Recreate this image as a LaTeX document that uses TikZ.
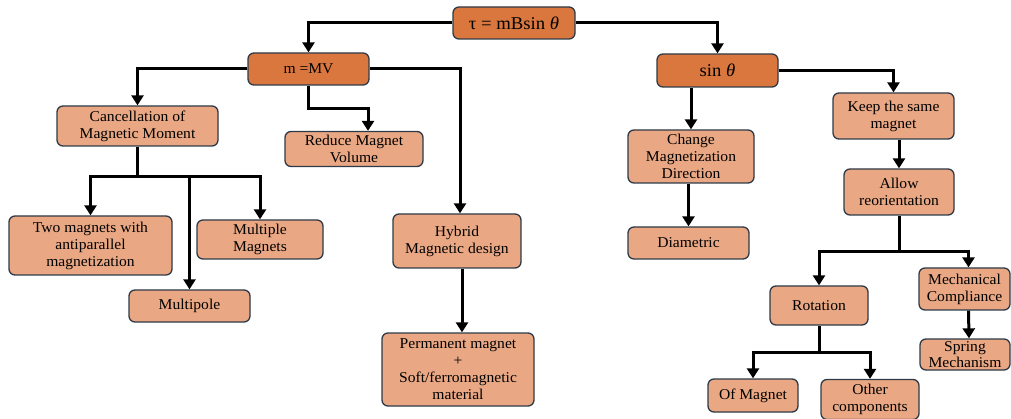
\documentclass[tikz,border=0pt]{standalone}
\usepackage{fontspec}
\setmainfont{Liberation Serif}[FakeStretch=1.04]
\usetikzlibrary{arrows.meta}
\definecolor{topfill}{HTML}{D9773F}
\definecolor{boxfill}{HTML}{E9A783}
\definecolor{boxline}{HTML}{2E3A47}
\tikzset{
  basebox/.style={draw=boxline, line width=1.3pt, rounded corners=6pt, align=center,
    inner sep=1pt, font=\fontsize{15}{17}\selectfont},
  topbox/.style={basebox, fill=topfill},
  subbox/.style={basebox, fill=boxfill},
  conn/.style={line width=3pt, black},
  arr/.style={conn, -{Triangle[length=10pt,width=12pt]}},
}
\begin{document}
\begin{tikzpicture}[x=1pt,y=-1pt]
\useasboundingbox (0,0) rectangle (1011,419);
% top level
\node[topbox, minimum width=122, minimum height=32, font=\fontsize{18}{20}\selectfont] (tau) at (514,23) {τ = mBsin \textit{θ}};
\node[topbox, minimum width=121, minimum height=32] (mmv) at (308.5,69) {m =MV};
\node[topbox, minimum width=121, minimum height=33, font=\fontsize{18}{20}\selectfont] (sin) at (717.5,70.5) {sin \textit{θ}};
% left branch
\node[subbox, minimum width=161, minimum height=40] (canc) at (137.5,126) {Cancellation of\\Magnetic Moment};
\node[subbox, minimum width=138, minimum height=35] (red) at (354,149) {Reduce Magnet\\Volume};
\node[subbox, minimum width=128, minimum height=54] (hyb) at (457,241) {Hybrid\\Magnetic design};
\node[subbox, minimum width=152, minimum height=73] (perm) at (458,369.5) {Permanent magnet\\+\\Soft/ferromagnetic\\material};
\node[subbox, minimum width=163, minimum height=59] (two) at (90.5,245.5) {Two magnets with\\antiparallel\\magnetization};
\node[subbox, minimum width=126, minimum height=39] (mult) at (260,239.5) {Multiple\\Magnets};
\node[subbox, minimum width=121, minimum height=32] (mpole) at (189.5,306) {Multipole};
% right branch
\node[subbox, minimum width=126, minimum height=53] (chg) at (691,156.5) {Change\\Magnetization\\Direction};
\node[subbox, minimum width=121, minimum height=32] (diam) at (688.5,243) {Diametric};
\node[subbox, minimum width=121, minimum height=46] (keep) at (893.5,116) {Keep the same\\magnet};
\node[subbox, minimum width=110, minimum height=46] (allow) at (899,192) {Allow\\reorientation};
\node[subbox, minimum width=98, minimum height=39] (rot) at (819,305.5) {Rotation};
\node[subbox, minimum width=91, minimum height=42] (mech) at (964.5,289) {Mechanical\\Compliance};
\node[subbox, minimum width=90, minimum height=31, font=\fontsize{15}{15.5}\selectfont, inner sep=0pt] (spring) at (965,354.5) {Spring\\Mechanism};
\node[subbox, minimum width=90, minimum height=33] (ofm) at (753,395.5) {Of Magnet};
\node[subbox, minimum width=98, minimum height=40] (oth) at (870,399.5) {Other\\components};
% connectors: top
\draw[arr] (tau.west) -| (mmv.north);
\draw[arr] (tau.east) -| (sin.north);
% m = MV
\draw[arr] (mmv.west) -| (canc.north);
\draw[arr] (mmv.south) -- ++(0,23) -| ([xshift=14pt]red.north);
\draw[arr] (mmv.east) -| ([xshift=3pt]hyb.north);
\draw[arr] ([xshift=5pt]hyb.south) -- ([xshift=5pt]hyb.south |- perm.north);
% cancellation tree
\draw[conn] (canc.south) -- ++(0,30) coordinate (cj);
\draw[arr] (cj) -| (two.north);
\draw[arr] (cj) -| (mpole.north);
\draw[arr] (cj) -| (mult.north);
% sin theta
\draw[arr] (chg.north |- sin.south) -- (chg.north);
\draw[arr] (diam.north |- chg.south) -- (diam.north);
\draw[arr] (sin.east) -| (keep.north);
\draw[arr] (allow.north |- keep.south) -- (allow.north);
\draw[conn] (allow.south) -- ++(0,36) coordinate (aj);
\draw[arr] (aj) -| (rot.north);
\draw[arr] (aj) -| ([xshift=4pt]mech.north);
\draw[arr] ([xshift=4pt]mech.south) -- ([xshift=4pt]spring.north);
\draw[conn] (rot.south) -- ++(0,27) coordinate (rj);
\draw[arr] (rj) -| (ofm.north);
\draw[arr] (rj) -| (oth.north);
\end{tikzpicture}
\end{document}
